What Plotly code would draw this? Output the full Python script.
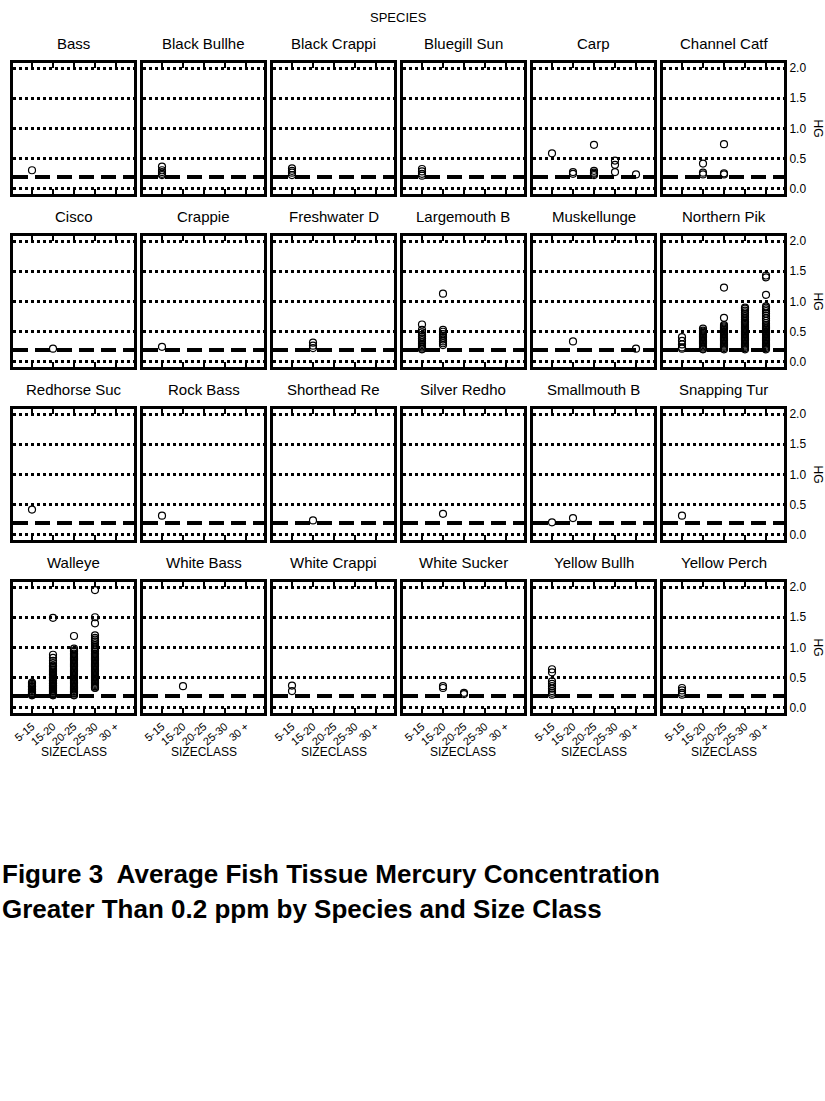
"Fish tissue mercury by species and size class - trellis of dot plots"

import plotly.graph_objects as go

W, H = 825, 1101

SIZECLASS = ["5-15", "15-20", "20-25", "25-30", "30 +"]
HG_TICKS = [0.0, 0.5, 1.0, 1.5, 2.0]
THRESHOLD = 0.2

# HG (ppm) per size class, one dict per species
BASS = {"5-15": [0.31]}
BLACK_BULLHE = {"5-15": [0.37, 0.31, 0.28, 0.25, 0.23]}
BLACK_CRAPPI = {"5-15": [0.34, 0.30, 0.27, 0.23]}
BLUEGILL_SUN = {"5-15": [0.33, 0.29, 0.25, 0.22]}
CARP = {"5-15": [0.59], "15-20": [0.28, 0.25],
        "20-25": [0.73, 0.30, 0.27, 0.25, 0.23],
        "25-30": [0.47, 0.40, 0.28], "30 +": [0.24]}
CHANNEL_CATF = {"15-20": [0.42, 0.27, 0.24], "20-25": [0.74, 0.26, 0.24]}

CISCO = {"15-20": [0.22]}
CRAPPIE = {"5-15": [0.25]}
FRESHWATER_D = {"15-20": [0.32, 0.27, 0.23]}
LARGEMOUTH_B = {"5-15": [0.62, 0.53, 0.49, 0.45, 0.42, 0.39, 0.36, 0.33, 0.30,
                         0.28, 0.26, 0.24, 0.22, 0.21],
                "15-20": [1.13, 0.53, 0.50, 0.46, 0.43, 0.40, 0.37, 0.34,
                          0.31, 0.28]}
MUSKELLUNGE = {"15-20": [0.34], "30 +": [0.22]}
NORTHERN_PIK = {"5-15": [0.41, 0.35, 0.29, 0.24, 0.22],
                "15-20": [0.55, 0.52, 0.50, 0.48, 0.46, 0.44, 0.42, 0.40,
                          0.38, 0.36, 0.34, 0.32, 0.30, 0.28, 0.26, 0.24,
                          0.22, 0.21],
                "20-25": [1.23, 0.73, 0.61, 0.59, 0.57, 0.55, 0.53, 0.51,
                          0.49, 0.47, 0.45, 0.43, 0.41, 0.39, 0.37, 0.35,
                          0.33, 0.31, 0.29, 0.27, 0.25, 0.23, 0.21],
                "25-30": [0.90, 0.88, 0.85, 0.82, 0.79, 0.76, 0.73, 0.70,
                          0.67, 0.65, 0.63, 0.61, 0.59, 0.57, 0.55, 0.53,
                          0.51, 0.49, 0.47, 0.45, 0.43, 0.41, 0.39, 0.37,
                          0.35, 0.33, 0.31, 0.29, 0.27, 0.25, 0.23, 0.21],
                "30 +": [1.43, 1.40, 1.11, 0.92, 0.90, 0.87, 0.84, 0.80,
                         0.76, 0.72, 0.68, 0.64, 0.61, 0.59, 0.57, 0.55,
                         0.53, 0.51, 0.49, 0.47, 0.45, 0.43, 0.41, 0.39,
                         0.37, 0.35, 0.33, 0.31, 0.29, 0.27, 0.25, 0.23,
                         0.21]}

REDHORSE_SUC = {"5-15": [0.42]}
ROCK_BASS = {"5-15": [0.32]}
SHORTHEAD_RE = {"15-20": [0.24]}
SILVER_REDHO = {"15-20": [0.35]}
SMALLMOUTH_B = {"5-15": [0.21], "15-20": [0.28]}
SNAPPING_TUR = {"5-15": [0.32]}

WALLEYE = {"5-15": [0.42, 0.40, 0.38, 0.36, 0.35, 0.33, 0.31, 0.30, 0.28,
                    0.27, 0.25, 0.24, 0.23, 0.22, 0.21],
           "15-20": [1.49, 0.88, 0.83, 0.78, 0.74, 0.70, 0.68, 0.66, 0.64,
                     0.62, 0.60, 0.58, 0.56, 0.55, 0.53, 0.51, 0.50, 0.48,
                     0.46, 0.45, 0.43, 0.41, 0.40, 0.38, 0.37, 0.35, 0.34,
                     0.32, 0.31, 0.29, 0.28, 0.27, 0.25, 0.24, 0.23, 0.22,
                     0.21],
           "20-25": [1.19, 0.98, 0.95, 0.93, 0.90, 0.88, 0.86, 0.84, 0.82,
                     0.80, 0.78, 0.76, 0.74, 0.72, 0.70, 0.68, 0.66, 0.64,
                     0.62, 0.60, 0.58, 0.56, 0.54, 0.52, 0.50, 0.48, 0.46,
                     0.44, 0.42, 0.40, 0.38, 0.36, 0.34, 0.32, 0.30, 0.28,
                     0.27, 0.25, 0.24, 0.22, 0.21],
           "25-30": [1.95, 1.50, 1.40, 1.20, 1.16, 1.13, 1.10, 1.07, 1.04,
                     1.01, 0.98, 0.95, 0.93, 0.90, 0.88, 0.86, 0.84, 0.82,
                     0.80, 0.78, 0.76, 0.74, 0.72, 0.70, 0.68, 0.66, 0.64,
                     0.62, 0.60, 0.58, 0.56, 0.54, 0.52, 0.50, 0.48, 0.46,
                     0.44, 0.42, 0.40, 0.38, 0.36, 0.34, 0.33]}
WHITE_BASS = {"15-20": [0.36]}
WHITE_CRAPPI = {"5-15": [0.37, 0.28]}
WHITE_SUCKER = {"15-20": [0.36, 0.33], "20-25": [0.25, 0.23]}
YELLOW_BULLH = {"5-15": [0.64, 0.59, 0.44, 0.40, 0.36, 0.32, 0.28, 0.25, 0.22]}
YELLOW_PERCH = {"5-15": [0.33, 0.29, 0.25, 0.22]}

SPECIES = [
    ("Bass", BASS), ("Black Bullhe", BLACK_BULLHE), ("Black Crappi", BLACK_CRAPPI),
    ("Bluegill Sun", BLUEGILL_SUN), ("Carp", CARP), ("Channel Catf", CHANNEL_CATF),
    ("Cisco", CISCO), ("Crappie", CRAPPIE), ("Freshwater D", FRESHWATER_D),
    ("Largemouth B", LARGEMOUTH_B), ("Muskellunge", MUSKELLUNGE), ("Northern Pik", NORTHERN_PIK),
    ("Redhorse Suc", REDHORSE_SUC), ("Rock Bass", ROCK_BASS), ("Shorthead Re", SHORTHEAD_RE),
    ("Silver Redho", SILVER_REDHO), ("Smallmouth B", SMALLMOUTH_B), ("Snapping Tur", SNAPPING_TUR),
    ("Walleye", WALLEYE), ("White Bass", WHITE_BASS), ("White Crappi", WHITE_CRAPPI),
    ("White Sucker", WHITE_SUCKER), ("Yellow Bullh", YELLOW_BULLH), ("Yellow Perch", YELLOW_PERCH),
]

NCOL, NROW = 6, 4
FONT = "Liberation Sans, Arial, sans-serif"


def fx(px):
    "pixel x -> paper fraction"
    return px / W


def fy(px):
    "pixel y (from top) -> paper fraction"
    return 1 - px / H


fig = go.Figure()
layout = dict(
    width=W, height=H, margin=dict(l=0, r=0, t=0, b=0),
    paper_bgcolor="white", plot_bgcolor="white", showlegend=False,
    font=dict(family=FONT, color="black"),
)
shapes, annotations = [], []

for i, (name, data) in enumerate(SPECIES):
    r, c = divmod(i, NCOL)
    n = i + 1
    sfx = "" if n == 1 else str(n)
    L = 10 + 130 * c      # outer frame left (px)
    T = 60 + 173 * r      # outer frame top (px)

    xs, ys = [], []
    for sc, vals in data.items():
        xs += [sc] * len(vals)
        ys += vals
    fig.add_trace(go.Scatter(
        x=xs, y=ys, mode="markers", xaxis="x" + sfx, yaxis="y" + sfx,
        marker=dict(symbol="circle-open", size=7, color="black",
                    line=dict(width=1.2, color="black")),
        hoverinfo="x+y",
    ))

    layout["xaxis" + sfx] = dict(
        domain=[fx(L + 3), fx(L + 124)], anchor="y" + sfx,
        type="category", categoryorder="array", categoryarray=SIZECLASS,
        range=[-0.905, 4.857], showgrid=False, zeroline=False,
        showline=True, linewidth=3, linecolor="black", mirror="ticks",
        ticks="inside", ticklen=5, tickwidth=2, tickcolor="black",
        showticklabels=(r == NROW - 1), tickangle=-40,
        tickfont=dict(size=11), automargin=False,
    )
    layout["yaxis" + sfx] = dict(
        domain=[fy(T + 134), fy(T + 3)], anchor="x" + sfx,
        range=[-0.083, 2.083], tickvals=HG_TICKS, tickformat=".1f",
        showgrid=True, gridcolor="black", gridwidth=2.5, griddash="dot",
        zeroline=False, showline=True, linewidth=3, linecolor="black",
        mirror=True, ticks="", side="right",
        showticklabels=(c == NCOL - 1), tickfont=dict(size=12),
        automargin=False,
    )

    shapes.append(dict(
        type="line", xref="x" + sfx + " domain", x0=0, x1=1,
        yref="y" + sfx, y0=THRESHOLD, y1=THRESHOLD,
        line=dict(color="black", width=4, dash="15px,7px"),
    ))

    annotations.append(dict(
        text=name, x=fx(L + 63.5), y=fy(T - 16.5),
        xref="paper", yref="paper", showarrow=False,
        xanchor="center", yanchor="middle", font=dict(size=15),
    ))
    if r == NROW - 1:
        annotations.append(dict(
            text="SIZECLASS", x=fx(L + 63.5), y=fy(752),
            xref="paper", yref="paper", showarrow=False,
            xanchor="center", yanchor="middle", font=dict(size=12),
        ))
    if c == NCOL - 1:
        annotations.append(dict(
            text="HG", x=fx(818), y=fy(T + 68.5),
            xref="paper", yref="paper", showarrow=False, textangle=90,
            xanchor="center", yanchor="middle", font=dict(size=12),
        ))

annotations.append(dict(
    text="SPECIES", x=fx(398.5), y=fy(17), xref="paper", yref="paper",
    showarrow=False, xanchor="center", yanchor="middle", font=dict(size=13),
))
annotations.append(dict(
    text="<b>Figure 3  Average Fish Tissue Mercury Concentration</b>",
    x=fx(0), y=fy(874), xref="paper", yref="paper", showarrow=False,
    xanchor="left", yanchor="middle", font=dict(size=26),
))
annotations.append(dict(
    text="<b>Greater Than 0.2 ppm by Species and Size Class</b>",
    x=fx(0), y=fy(909), xref="paper", yref="paper", showarrow=False,
    xanchor="left", yanchor="middle", font=dict(size=26),
))

layout["shapes"] = shapes
layout["annotations"] = annotations
fig.update_layout(**layout)

# page body margin would shift the figure by 8px; drop it
fig.write_html(
    "out.html",
    config={"displayModeBar": False},
    post_script="document.body.style.margin='0';"
                "document.body.style.overflow='hidden';",
)
